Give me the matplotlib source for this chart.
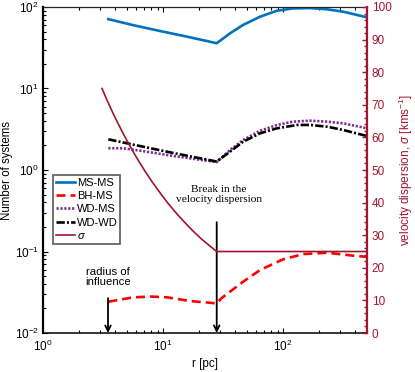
import matplotlib
matplotlib.use("Agg")
import matplotlib.pyplot as plt
import matplotlib.ticker as ticker

plt.rcParams['font.family'] = 'Liberation Sans'
plt.rcParams['mathtext.fontset'] = 'custom'
plt.rcParams['mathtext.rm'] = 'Liberation Sans'
plt.rcParams['mathtext.it'] = 'Liberation Sans:italic'
plt.rcParams['lines.scale_dashes'] = False

# number of systems against radius (left axis)
r_msms = [3.5, 5.6, 9.4, 15, 24.6, 28, 36.2, 46.4, 64.3, 89, 121, 168, 233, 316, 500]
n_msms = [71, 60, 50.8, 44, 37.5, 35.9, 47.6, 60.2, 76, 90, 96, 97, 93.7, 87.6, 74.7]

r_bhms = [3.5, 5.65, 8, 10.8, 16.8, 28, 30.6, 46.6, 64.3, 100, 147, 233, 409, 500]
n_bhms = [0.0242, 0.0274, 0.028, 0.0274, 0.0247, 0.0231, 0.0267, 0.0427, 0.0593,
          0.0802, 0.093, 0.0966, 0.088, 0.086]

r_wdms = [3.5, 4.6, 6.4, 12.1, 20, 28, 36.2, 46.4, 64.3, 89, 121, 168, 233, 316, 500]
n_wdms = [1.85, 1.85, 1.73, 1.49, 1.34, 1.25, 1.76, 2.33, 3.03, 3.57, 3.92, 4.03,
          3.92, 3.74, 3.25]

r_wdwd = [3.5, 6.4, 12.1, 20, 28, 36.2, 46.4, 64.3, 89, 131, 168, 233, 316, 500]
n_wdwd = [2.38, 1.97, 1.62, 1.40, 1.27, 1.68, 2.22, 2.82, 3.25, 3.57, 3.57, 3.40,
          3.10, 2.61]

# velocity dispersion (right axis)
r_sig = [3.1, 3.4, 3.8, 4.2, 4.7, 5.2, 5.8, 6.5, 7.2, 8.0, 8.9, 9.9, 11, 12.2,
         13.6, 15.1, 16.8, 18.7, 20.8, 23.1, 25.5, 28, 500]
sigma = [75.0, 71.6, 67.7, 64.4, 60.9, 57.9, 54.8, 51.8, 49.2, 46.7, 44.3, 42.0,
         39.8, 37.8, 35.8, 34.0, 32.2, 30.5, 28.9, 27.5, 26.2, 25.0, 25.0]

r_influence = 3.48
r_break = 28.0

dred = '#A2142F'

fig = plt.figure(figsize=(4.15, 3.72), dpi=100)
ax1 = fig.add_axes([0.1036, 0.1048, 0.7807, 0.8764])
ax2 = ax1.twinx()

l1, = ax1.plot(r_msms, n_msms, color='#0072BD', lw=1.9, label='MS-MS')
l2, = ax1.plot(r_bhms, n_bhms, color='#FF0000', lw=1.9, dashes=(6.5, 3.6), label='BH-MS')
l3, = ax1.plot(r_wdms, n_wdms, color='#7E2F8E', lw=1.9, dashes=(1.6, 1.2), label='WD-MS')
l4, = ax1.plot(r_wdwd, n_wdwd, color='black', lw=1.9, dashes=(6, 1.5, 1.5, 1.5), label='WD-WD')
l5, = ax2.plot(r_sig, sigma, color=dred, lw=1.2, label=r'$\it{\sigma}$')

ax1.set_xscale('log')
ax1.set_yscale('log')
ax1.set_xlim(1, 500)
ax1.set_ylim(1e-2, 1e2)
ax2.set_ylim(0, 100)

# arrows and notes
ax1.annotate('', xy=(r_influence, 0.0), xycoords=('data', 'axes fraction'),
             xytext=(r_influence, 0.107), textcoords=('data', 'axes fraction'),
             arrowprops=dict(arrowstyle='->', color='black', lw=1.3, shrinkA=0, shrinkB=0))
ax1.annotate('', xy=(r_break, 0.0), xycoords=('data', 'axes fraction'),
             xytext=(r_break, 0.34), textcoords=('data', 'axes fraction'),
             arrowprops=dict(arrowstyle='->', color='black', lw=1.3, shrinkA=0, shrinkB=0))
ax1.text(r_influence, 0.172, 'radius of\ninfluence', transform=ax1.get_xaxis_transform(),
         ha='center', va='center', fontsize=8.2, linespacing=1.05)
ax1.text(29.3, 0.426, 'Break in the\nvelocity dispersion', transform=ax1.get_xaxis_transform(),
         ha='center', va='center', fontsize=8.2, family='Liberation Serif', linespacing=1.15)

# ticks
ax1.xaxis.set_major_locator(ticker.LogLocator(base=10, numticks=10))
ax1.xaxis.set_minor_locator(ticker.LogLocator(base=10, subs=range(2, 10), numticks=10))
ax1.yaxis.set_major_locator(ticker.LogLocator(base=10, numticks=10))
ax1.yaxis.set_minor_locator(ticker.LogLocator(base=10, subs=range(2, 10), numticks=10))
ax1.xaxis.set_minor_formatter(ticker.NullFormatter())
ax1.yaxis.set_minor_formatter(ticker.NullFormatter())
ax1.tick_params(which='both', direction='in', top=True, right=False, labelsize=8.5)
ax1.tick_params(which='major', length=3.5, width=0.8)
ax1.tick_params(which='minor', length=2, width=0.8)
ax1.tick_params(axis='x', pad=4)
ax1.tick_params(axis='y', pad=3)

ax2.set_yticks(range(0, 101, 10))
ax2.yaxis.set_minor_locator(ticker.MultipleLocator(2))
ax2.tick_params(axis='y', which='both', direction='in', colors=dred, labelsize=8.5)
ax2.tick_params(axis='y', which='major', length=3.5, width=1)
ax2.tick_params(axis='y', which='minor', length=2, width=1)

for s in ['left', 'top', 'bottom']:
    ax2.spines[s].set_visible(False)
ax1.spines['right'].set_visible(False)
ax2.spines['right'].set_color(dred)
ax2.spines['right'].set_linewidth(1.6)
ax1.spines['left'].set_linewidth(1.6)
ax1.spines['bottom'].set_linewidth(1.1)
ax1.spines['top'].set_linewidth(0.9)
ax1.spines['top'].set_color('#262626')

ax1.set_xlabel('r [pc]', fontsize=8.5, labelpad=3)
ax1.set_ylabel('Number of systems', fontsize=8.3, labelpad=1)
ax2.set_ylabel(r'velocity dispersion, $\sigma$ [kms$^{-1}$]', color=dred, fontsize=8.5, labelpad=4)

leg = ax2.legend(handles=[l1, l2, l3, l4, l5], loc='upper left', bbox_to_anchor=(0.031, 0.485),
                 fontsize=8, frameon=True, fancybox=False, handlelength=1.7,
                 handletextpad=0.2, labelspacing=0.3, borderpad=0.25, borderaxespad=0)
leg.get_frame().set_edgecolor('#404040')
leg.get_frame().set_linewidth(1.3)

fig.savefig('out.png', dpi=100)
